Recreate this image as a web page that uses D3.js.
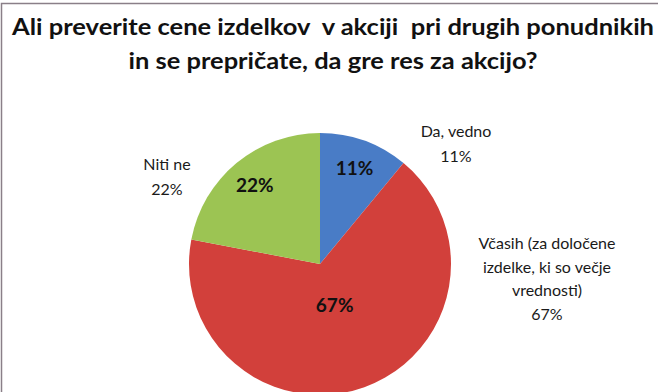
<!DOCTYPE html>
<html>
<head>
<meta charset="utf-8">
<script src="https://cdn.jsdelivr.net/npm/d3@7"></script>
<style>
  html, body { margin: 0; padding: 0; background: #fff; }
  svg { display: block; }
  text { font-family: Lato, "Open Sans", sans-serif; }
</style>
</head>
<body>
<svg id="chart" width="658" height="392"></svg>
<script>
// ---- data ----
const categories = ["Da, vedno", "Včasih (za določene izdelke, ki so večje vrednosti)", "Niti ne"];
const values = [11, 67, 22];
const labelLines = [["Da, vedno", "11%"], ["Včasih (za določene", "izdelke, ki so večje", "vrednosti)", "67%"], ["Niti ne", "22%"]];
const titleLines = ["Ali preverite cene izdelkov  v akciji  pri drugih ponudnikih", "in se prepričate, da gre res za akcijo?"];

// ---- layout ----
const W = 658, H = 392;
const cx = 320, cy = 264, R = 131;
const svg = d3.select("#chart");

// frame
svg.append("rect").attr("x", 1.5).attr("y", 3.5).attr("width", W + 10).attr("height", H + 10)
  .attr("fill", "#fff").attr("stroke", "#8a7f88").attr("stroke-width", 1.5);

// title
const titleY = [35, 69];
const titleW = [642, 409];
titleLines.forEach((t, i) => {
  svg.append("text").attr("x", 333).attr("y", titleY[i]).attr("text-anchor", "middle")
    .attr("font-size", 23).attr("font-weight", "bold").attr("fill", "#111")
    .attr("textLength", titleW[i]).attr("lengthAdjust", "spacingAndGlyphs")
    .style("white-space", "pre").text(t);
});

// gradients
const defs = svg.append("defs");
const colors = [["#4a7cc6", "#3566b0"], ["#d2403a", "#9e2a28"], ["#9cc452", "#86ad3f"]];
colors.forEach((c, i) => {
  const g = defs.append("linearGradient").attr("id", "g" + i)
    .attr("gradientUnits", "userSpaceOnUse")
    .attr("x1", 0).attr("y1", cy - R).attr("x2", 0).attr("y2", cy + R);
  g.append("stop").attr("offset", "0%").attr("stop-color", c[0]);
  g.append("stop").attr("offset", "100%").attr("stop-color", c[1]);
});
defs.append("filter").attr("id", "soft").append("feGaussianBlur").attr("stdDeviation", 0.6);

const pie = d3.pie().sort(null).value(d => d)(values);
const arc = d3.arc().innerRadius(0).outerRadius(R);
const g = svg.append("g").attr("transform", `translate(${cx},${cy})`);
g.selectAll("path").data(pie).join("path")
  .attr("d", arc).attr("fill", (d, i) => `url(#g${i})`).attr("filter", "url(#soft)");

// inner percentage labels
g.selectAll("text.pct").data(pie).join("text").attr("class", "pct")
  .each(function (d) {
    const r = (d.endAngle - d.startAngle) > Math.PI ? R * 0.33 : R * 0.78;
    const a = (d.startAngle + d.endAngle) / 2;
    d3.select(this).attr("x", Math.sin(a) * r).attr("y", -Math.cos(a) * r + 7);
  })
  .attr("text-anchor", "middle").attr("font-size", 19).attr("font-weight", "bold").attr("fill", "#111")
  .text(d => d.data + "%");

// outer labels
const outerPos = [[456, 137], [547, 249], [167, 170]];
labelLines.forEach((lines, i) => {
  const t = svg.append("text").attr("text-anchor", "middle").attr("font-size", 16).attr("fill", "#1a1a1a");
  lines.forEach((l, j) => {
    t.append("tspan").attr("x", outerPos[i][0]).attr("y", outerPos[i][1] + j * (i === 1 ? 23.7 : 25)).text(l);
  });
});
</script>
</body>
</html>
